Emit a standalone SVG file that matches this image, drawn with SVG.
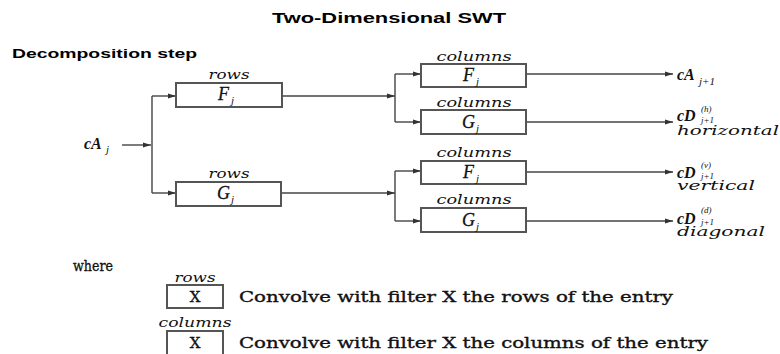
<svg xmlns="http://www.w3.org/2000/svg" width="780" height="354" viewBox="0 0 780 354">
  <style>
    .title { font-family: "Liberation Sans", Arial, sans-serif; font-weight: bold; fill: #000; }
    .box { fill: #fff; stroke: #555; stroke-width: 2; }
    .wire { fill: none; stroke: #444; stroke-width: 1.4; }
    .arr { fill: none; stroke: #444; stroke-width: 1.4; marker-end: url(#head); }
    .lbl { font-family: "DejaVu Serif", "Liberation Serif", serif; font-style: italic; font-size: 13px; fill: #111; }
    .sym { font-family: "Liberation Serif", "DejaVu Serif", serif; font-style: italic; font-size: 18px; fill: #111; stroke: #111; stroke-width: 0.3; }
    .sub { font-family: "Liberation Serif", "DejaVu Serif", serif; font-style: italic; font-size: 11px; fill: #111; }
    .tiny { font-family: "Liberation Serif", "DejaVu Serif", serif; font-style: italic; font-size: 9px; fill: #111; }
    .out { font-family: "Liberation Serif", "DejaVu Serif", serif; font-style: italic; font-weight: bold; font-size: 16px; fill: #111; }
    .txt { font-family: "DejaVu Serif", "Liberation Serif", serif; font-size: 15px; fill: #111; stroke: #111; stroke-width: 0.35; }
  </style>
  <defs>
    <marker id="head" viewBox="0 0 8 6" refX="8" refY="3" markerWidth="8" markerHeight="6" markerUnits="userSpaceOnUse" orient="auto">
      <path d="M0,0.6 L8,3 L0,5.4 Z" fill="#333"/>
    </marker>
  </defs>

  <!-- headings -->
  <text class="title" x="272" y="23" font-size="14" textLength="234" lengthAdjust="spacingAndGlyphs">Two-Dimensional SWT</text>
  <text class="title" x="12" y="58" font-size="13" textLength="185" lengthAdjust="spacingAndGlyphs">Decomposition step</text>

  <!-- connectors -->
  <g id="connectors">
    <path class="arr" d="M122,145 H151"/>
    <path class="wire" d="M152,96 V193"/>
    <path class="arr" d="M152,96 H176"/>
    <path class="arr" d="M152,193 H176"/>
    <path class="arr" d="M282,96 H395"/>
    <path class="arr" d="M281,193 H395"/>
    <path class="wire" d="M395,74 V122"/>
    <path class="wire" d="M395,171 V221"/>
    <path class="arr" d="M395,74 H421"/>
    <path class="arr" d="M395,122 H421"/>
    <path class="arr" d="M395,171 H421"/>
    <path class="arr" d="M395,221 H421"/>
    <path class="arr" d="M526,74 H673"/>
    <path class="arr" d="M526,122 H673"/>
    <path class="arr" d="M526,172 H673"/>
    <path class="arr" d="M526,221 H673"/>
  </g>

  <!-- input -->
  <g id="input">
    <text class="out" x="84" y="149">cA</text>
    <text class="sub" x="106" y="153">j</text>
  </g>

  <!-- row filters -->
  <g id="rows-F">
    <text class="lbl" x="229" y="79" text-anchor="middle" textLength="41" lengthAdjust="spacingAndGlyphs">rows</text>
    <rect class="box" x="176" y="83" width="106" height="24"/>
    <text class="sym" x="218" y="100">F</text>
    <text class="sub" x="231" y="104">j</text>
  </g>
  <g id="rows-G">
    <text class="lbl" x="229" y="178" text-anchor="middle" textLength="41" lengthAdjust="spacingAndGlyphs">rows</text>
    <rect class="box" x="176" y="182" width="105" height="24"/>
    <text class="sym" x="217" y="199">G</text>
    <text class="sub" x="231" y="203">j</text>
  </g>

  <!-- column filters -->
  <g id="cols-F1">
    <text class="lbl" x="474" y="61" text-anchor="middle" textLength="75" lengthAdjust="spacingAndGlyphs">columns</text>
    <rect class="box" x="421" y="64" width="105" height="23"/>
    <text class="sym" x="463" y="81">F</text>
    <text class="sub" x="476" y="85">j</text>
  </g>
  <g id="cols-G1">
    <text class="lbl" x="474" y="107" text-anchor="middle" textLength="75" lengthAdjust="spacingAndGlyphs">columns</text>
    <rect class="box" x="421" y="110" width="105" height="24"/>
    <text class="sym" x="462" y="128">G</text>
    <text class="sub" x="476" y="132">j</text>
  </g>
  <g id="cols-F2">
    <text class="lbl" x="474" y="157" text-anchor="middle" textLength="75" lengthAdjust="spacingAndGlyphs">columns</text>
    <rect class="box" x="421" y="161" width="105" height="23"/>
    <text class="sym" x="463" y="178">F</text>
    <text class="sub" x="476" y="182">j</text>
  </g>
  <g id="cols-G2">
    <text class="lbl" x="474" y="204" text-anchor="middle" textLength="75" lengthAdjust="spacingAndGlyphs">columns</text>
    <rect class="box" x="421" y="208" width="105" height="24"/>
    <text class="sym" x="462" y="226">G</text>
    <text class="sub" x="476" y="230">j</text>
  </g>

  <!-- outputs -->
  <g id="out-A">
    <text class="out" x="677" y="80">cA</text>
    <text class="sub" x="699" y="85">j+1</text>
  </g>
  <g id="out-H">
    <text class="out" x="677" y="121">cD</text>
    <text class="tiny" x="701" y="112">(h)</text>
    <text class="tiny" x="701" y="123">j+1</text>
    <text class="lbl" x="677" y="135" textLength="102" lengthAdjust="spacingAndGlyphs">horizontal</text>
  </g>
  <g id="out-V">
    <text class="out" x="677" y="178">cD</text>
    <text class="tiny" x="701" y="168">(v)</text>
    <text class="tiny" x="701" y="179">j+1</text>
    <text class="lbl" x="677" y="190" textLength="78" lengthAdjust="spacingAndGlyphs">vertical</text>
  </g>
  <g id="out-D">
    <text class="out" x="677" y="224">cD</text>
    <text class="tiny" x="701" y="213">(d)</text>
    <text class="tiny" x="701" y="225">j+1</text>
    <text class="lbl" x="677" y="236" textLength="88" lengthAdjust="spacingAndGlyphs">diagonal</text>
  </g>

  <!-- legend -->
  <g id="legend">
    <text class="txt" x="73" y="271" textLength="40" lengthAdjust="spacingAndGlyphs">where</text>
    <g id="legend-rows">
      <text class="lbl" x="195" y="282" text-anchor="middle" textLength="41" lengthAdjust="spacingAndGlyphs">rows</text>
      <rect class="box" x="167" y="285" width="56" height="23"/>
      <text class="txt" x="195" y="302" text-anchor="middle">X</text>
      <text class="txt" x="239" y="302" textLength="434" lengthAdjust="spacingAndGlyphs">Convolve with filter X the rows of the entry</text>
    </g>
    <g id="legend-columns">
      <text class="lbl" x="195" y="327" text-anchor="middle" textLength="73" lengthAdjust="spacingAndGlyphs">columns</text>
      <rect class="box" x="167" y="331" width="56" height="26"/>
      <text class="txt" x="195" y="348" text-anchor="middle">X</text>
      <text class="txt" x="239" y="348" textLength="469" lengthAdjust="spacingAndGlyphs">Convolve with filter X the columns of the entry</text>
    </g>
  </g>
</svg>
